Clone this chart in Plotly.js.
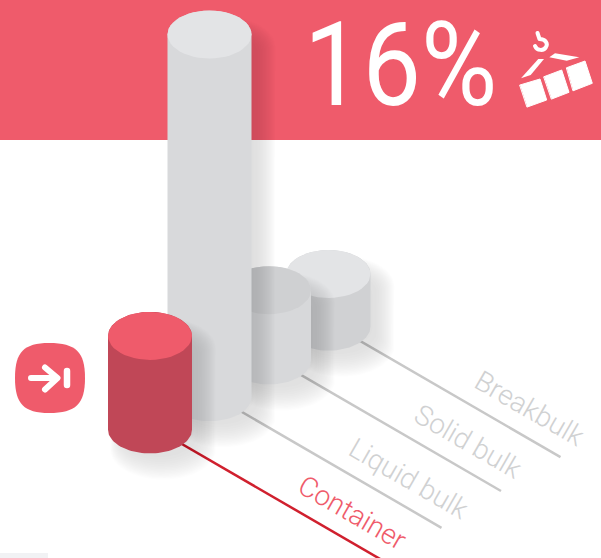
<!DOCTYPE html>
<html><head><meta charset="utf-8">
<script src="https://cdn.plot.ly/plotly-3.0.1.min.js"></script>
<style>html,body{margin:0;padding:0;background:#fff}#c{width:601px;height:558px}</style>
</head><body><div id="c"></div>
<script>
// Data (share of traffic, %)
const categories = ["Container", "Liquid bulk", "Solid bulk", "Breakbulk"];
const shares = [16, 62, 12, 9];
const headline = "16%";

// Styles
const accent = "#ef5b6b";
const bodyColors = ["#c04757", "#d8d9db", "#d7d8da", "#d0d1d3"];
const topColors  = [accent, "#e3e4e6", "#cfd0d2", "#e3e4e6"];
const lineColors = ["#d0202e", "#c8c8c8", "#c8c8c8", "#c8c8c8"];
const labelColors = [accent, "#d0d1d2", "#d0d1d2", "#d0d1d2"];

// Isometric scale: maps a category index and a share to the plane
const iso = {x0:150, y0:430, dx:59.5, dy:-34.3, rx:42, ry:24, pxPerShare:5.85,
  nudgeY:[-0.5,1.5,-1,-0.5],
  lineDx:232, lineDy:134.6, lineLift:4, labelAlong:[202,199,199,201], labelDrop:-34.5};

function base(i){ return [iso.x0+i*iso.dx, iso.y0+i*iso.dy+iso.nudgeY[i]]; }
function arc(cx,cy,rx,ry,a0,a1){
  const xs=[],ys=[];
  for(let k=0;k<=48;k++){ const a=a0+(a1-a0)*k/48; xs.push(cx+rx*Math.cos(a)); ys.push(cy+ry*Math.sin(a)); }
  return [xs,ys];
}
function poly(xs,ys,color){
  return {type:"scatter",mode:"lines",x:xs,y:ys,fill:"toself",fillcolor:color,line:{width:0,color:color},hoverinfo:"skip",showlegend:false};
}
function silhouette(cx,top,bot,rx,ry){
  const a=arc(cx,top,rx,ry,Math.PI,2*Math.PI), b=arc(cx,bot,rx,ry,0,Math.PI);
  return [a[0].concat(b[0]), a[1].concat(b[1])];
}
const traces=[];
categories.forEach((c,i)=>{
  const [bx,by]=base(i);
  traces.push({type:"scatter",mode:"lines",x:[bx,bx+iso.lineDx],y:[by-iso.lineLift,by-iso.lineLift+iso.lineDy],
    line:{color:lineColors[i],width:2.5},hoverinfo:"skip",showlegend:false});
});
for(let i=categories.length-1;i>=0;i--){
  const [bx,by]=base(i), top=by-shares[i]*iso.pxPerShare;
  // soft drop shadow: stacked translucent silhouettes, feathered on every side
  const N=16;
  for(let k=0;k<N;k++){
    const u=Math.pow(k/(N-1),0.6);
    const R=2+22*u, L=16-14*u, grow=(R-L)/2, drop=2+18*u;
    const s=silhouette(bx+(R+L)/2,top+20-8*u,by+drop,iso.rx+grow,iso.ry+grow*0.57);
    traces.push(poly(s[0],s[1],"rgba(0,0,0,0.0085)"));
  }
  const s=silhouette(bx,top,by,iso.rx,iso.ry);
  traces.push(poly(s[0],s[1],bodyColors[i]));
  const t=arc(bx,top,iso.rx,iso.ry,0,2*Math.PI);
  traces.push(poly(t[0],t[1],topColors[i]));
}
const annotations=categories.map((c,i)=>{
  const [bx,by]=base(i);
  const a=iso.labelAlong[i];
  return {x:bx+a,y:by+a*0.58+iso.labelDrop,xref:"x",yref:"y",text:c,textangle:30,showarrow:false,
    xanchor:"center",yanchor:"middle",font:{family:"Roboto",weight:300,size:28,color:labelColors[i]}};
});
annotations.push({x:302,y:65,xref:"x",yref:"y",text:headline,showarrow:false,xanchor:"left",yanchor:"middle",
  font:{family:"Roboto",weight:400,size:117,color:"#fff"}});

const W="#ffffff";
const shapes=[
 {type:"rect",layer:"below",x0:0,x1:601,y0:0,y1:140,fillcolor:accent,line:{width:0}},
 {type:"rect",layer:"below",x0:0,x1:48,y0:553,y1:558,fillcolor:"#f1f2f4",line:{width:0}},
 // badge
 {type:"path",layer:"above",path:"M49,343 C76,343 85,352 85,378 C85,404 76,413 49,413 C24,413 15,404 15,378 C15,352 24,343 49,343 Z",fillcolor:accent,line:{width:0}},
 {type:"path",layer:"above",path:"M31,378 L57,378 M45,367.5 L57.5,378 L45,389.5",line:{color:W,width:6}},
 {type:"path",layer:"above",path:"M67,371 L67,385",line:{color:W,width:6.5}},
 // crane icon
 {type:"path",layer:"above",path:"M520,85 L540,79 L546.7,100 L527.3,107 Z",fillcolor:W,line:{color:W,width:1}},
 {type:"path",layer:"above",path:"M544,76.7 L561.7,70 L569,92.3 L551.7,99 Z",fillcolor:W,line:{color:W,width:1}},
 {type:"path",layer:"above",path:"M566.7,67.7 L585,61 L592.3,83.3 L573.3,90.7 Z",fillcolor:W,line:{color:W,width:1}},
 {type:"path",layer:"above",path:"M538.3,59 L544,59 L530.7,75 L521,78.3 Z",fillcolor:W,line:{width:0}},
 {type:"path",layer:"above",path:"M549.3,57.3 L555,53.3 L579.3,57.3 L566.7,60.7 Z",fillcolor:W,line:{width:0}},
 {type:"path",layer:"above",path:"M537.5,33 L539.5,39 C546,39 548,44 546,47 C544,51 537,51 535,46",line:{color:W,width:4}}
];
Plotly.newPlot("c",traces,{
  width:601,height:558,margin:{l:0,r:0,t:0,b:0,pad:0},showlegend:false,
  paper_bgcolor:"#fff",plot_bgcolor:"#fff",
  xaxis:{range:[0,601],visible:false,fixedrange:true},
  yaxis:{range:[558,0],visible:false,fixedrange:true},
  shapes:shapes,annotations:annotations
},{staticPlot:true,displayModeBar:false}).then(gd=>{
  gd.querySelectorAll(".shapelayer path").forEach(p=>{p.style.strokeLinecap="round";p.style.strokeLinejoin="round";});
  gd.querySelectorAll(".annotation-text").forEach(t=>{
    if(t.textContent===headline){
      t.style.transformBox="fill-box"; t.style.transformOrigin="left center"; t.style.transform="scaleX(0.89)";
    }
  });
});
</script></body></html>
